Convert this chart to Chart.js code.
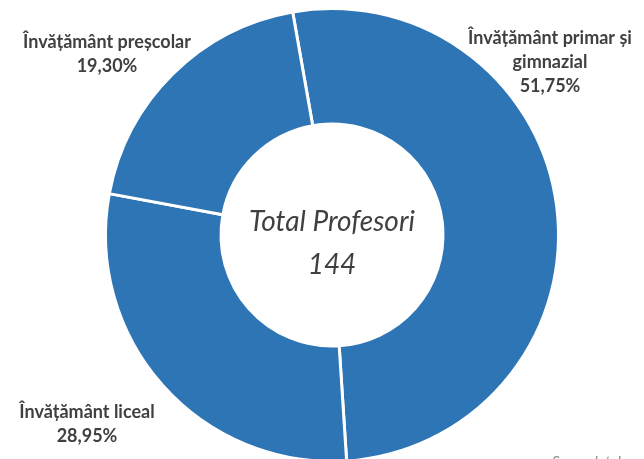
<!DOCTYPE html>
<html>
<head>
<meta charset="utf-8">
<script src="https://cdn.jsdelivr.net/npm/chart.js@4.4.1/dist/chart.umd.min.js"></script>
<style>
  html, body { margin: 0; padding: 0; background: #fff; overflow: hidden; }
  #wrap { position: absolute; left: 0; top: 0; width: 644px; height: 470px; }
</style>
</head>
<body>
<div id="wrap"><canvas id="myChart"></canvas></div>
<script>
const categories = [
  ['Învățământ primar și', 'gimnazial'],
  ['Învățământ liceal'],
  ['Învățământ preșcolar']
]
const shares = [51.75, 28.95, 19.30]
const totalLabel = 'Total Profesori'
const totalValue = 144
// label anchor offsets from the doughnut centre
const labelOffsets = [[218, -197], [-245, 177], [-225, -193]]

const fmt = v => v.toFixed(2).replace('.', ',') + '%'

const labelPlugin = {
  id: 'labels',
  afterDraw(chart) {
    const c = chart.ctx
    const arc = chart.getDatasetMeta(0).data[0]
    const cx = arc.x, cy = arc.y
    c.save()
    c.textAlign = 'center'
    c.textBaseline = 'middle'
    c.fillStyle = '#404040'
    c.font = 'bold 18px Lato'
    categories.forEach((lines, i) => {
      const [dx, dy] = labelOffsets[i]
      let y = cy + dy
      lines.concat([fmt(shares[i])]).forEach(t => {
        c.fillText(t, cx + dx, y)
        y += 24
      })
    })
    c.fillStyle = '#404040'
    c.font = 'italic 28px Lato'
    c.fillText(totalLabel, cx, cy - 13)
    c.fillText(String(totalValue), cx, cy + 30)
    c.fillStyle = '#8c8c8c'
    c.font = 'italic 15px Lato'
    c.textAlign = 'left'
    c.fillText('Sursa datelor', 552, 462)
    c.restore()
  }
}

const ctx = document.getElementById('myChart')
// eslint-disable-next-line no-unused-vars
const myChart = new Chart(ctx, {
  type: 'doughnut',
  data: {
    labels: categories.map(l => l.join(' ')),
    datasets: [{
      data: shares,
      backgroundColor: '#2E75B6',
      borderColor: '#ffffff',
      borderWidth: 3
    }]
  },
  options: {
    responsive: true,
    maintainAspectRatio: false,
    animation: false,
    rotation: -10,
    cutout: '49%',
    layout: { padding: { left: 104, right: 84, top: 7, bottom: 7 } },
    plugins: {
      legend: { display: false },
      tooltip: { enabled: false }
    }
  },
  plugins: [labelPlugin]
})
</script>
</body>
</html>
